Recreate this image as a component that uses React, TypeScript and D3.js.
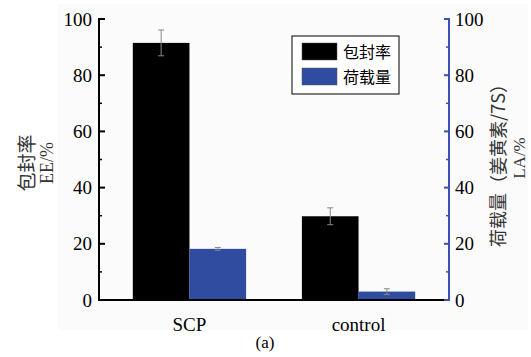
import React from "react";
import * as d3 from "d3";

const categories = ["SCP", "control"];
const eeValues = [91.5, 29.8];
const eeErrors = [4.6, 3.0];
const laValues = [18.2, 3.0];
const laErrors = [0.5, 1.0];
const yTicks = [0, 20, 40, 60, 80, 100];
const minorTicks = [10, 30, 50, 70, 90];
const legendLabels = ["包封率", "荷载量"];

const W = 531, H = 357;
const left = 99, right = 449, top = 19, bottom = 300;
const BLUE = "#2f4ca0";
const AXBLUE = "#3b4fb5";
const serif = "Liberation Serif, Times New Roman, serif";
const cjk = "Noto Sans CJK SC, sans-serif";

export default function App() {
  const y = d3.scaleLinear().domain([0, 100]).range([bottom, top]);
  const x0 = d3.scaleBand().domain(categories).range([left, right]).paddingInner(0.33).paddingOuter(0.2);
  const x1 = d3.scaleBand().domain(["ee", "la"]).range([0, x0.bandwidth()]);
  const series = [
    { key: "ee", vals: eeValues, errs: eeErrors, color: "#000" },
    { key: "la", vals: laValues, errs: laErrors, color: BLUE },
  ];
  const sf = { fontFamily: serif };
  const cf = { fontFamily: cjk };
  return (
    <svg width={W} height={H} style={{ display: "block", position: "absolute", left: 0, top: 0 }}>
      <rect x={0} y={0} width={W} height={H} fill="#ffffff" />
      <rect x={58} y={4} width={470} height={326} fill="#fbfbfb" />
      {series.map((s) =>
        categories.map((c, i) => {
          const bx = (x0(c) as number) + (x1(s.key) as number);
          const bw = x1.bandwidth();
          const cx = bx + bw / 2;
          return (
            <g key={s.key + c}>
              <rect x={bx} y={y(s.vals[i])} width={bw} height={bottom - y(s.vals[i])} fill={s.color} />
              <line x1={cx} x2={cx} y1={y(s.vals[i] + s.errs[i])} y2={y(s.vals[i] - s.errs[i])} stroke="#888" strokeWidth={1} />
              <line x1={cx - 3} x2={cx + 3} y1={y(s.vals[i] + s.errs[i])} y2={y(s.vals[i] + s.errs[i])} stroke="#888" strokeWidth={1} />
              <line x1={cx - 3} x2={cx + 3} y1={y(s.vals[i] - s.errs[i])} y2={y(s.vals[i] - s.errs[i])} stroke="#888" strokeWidth={1} />
            </g>
          );
        })
      )}
      {/* left axis */}
      <line x1={left} x2={left} y1={top - 1} y2={bottom + 1} stroke="#000" strokeWidth={2} />
      {yTicks.map((t) => (
        <g key={"l" + t}>
          <line x1={left} x2={left + 6} y1={y(t)} y2={y(t)} stroke="#000" strokeWidth={2} />
          <text x={left - 7} y={y(t)} dy="0.35em" textAnchor="end" style={sf} fontSize={19}>{t}</text>
        </g>
      ))}
      {minorTicks.map((t) => (
        <line key={"lm" + t} x1={left} x2={left + 3} y1={y(t)} y2={y(t)} stroke="#000" strokeWidth={1.5} />
      ))}
      {/* bottom axis */}
      <line x1={left} x2={right} y1={bottom} y2={bottom} stroke="#000" strokeWidth={2} />
      {/* right axis */}
      <line x1={right} x2={right} y1={top - 1} y2={bottom + 1} stroke={AXBLUE} strokeWidth={2} />
      {yTicks.map((t) => (
        <g key={"r" + t}>
          <line x1={right - 5} x2={right} y1={y(t)} y2={y(t)} stroke={AXBLUE} strokeWidth={2} />
          <text x={right + 6} y={y(t)} dy="0.35em" textAnchor="start" style={sf} fontSize={19}>{t}</text>
        </g>
      ))}
      {minorTicks.map((t) => (
        <line key={"rm" + t} x1={right - 3} x2={right} y1={y(t)} y2={y(t)} stroke={AXBLUE} strokeWidth={1.5} />
      ))}
      {/* category labels */}
      {categories.map((c) => (
        <text key={c} x={(x0(c) as number) + x0.bandwidth() / 2} y={331} textAnchor="middle" style={sf} fontSize={19}>{c}</text>
      ))}
      <text x={265} y={348} textAnchor="middle" style={sf} fontSize={17}>(a)</text>
      {/* axis titles */}
      <text transform="translate(34,163) rotate(-90)" textAnchor="middle" style={cf} fontSize={19} fill="#333">包封率</text>
      <text transform="translate(53,163) rotate(-90)" textAnchor="middle" style={sf} fontSize={18} fill="#333">EE/%</text>
      <text transform="translate(505,161) rotate(-90)" textAnchor="middle" style={cf} fontSize={18} fill="#333">荷载量（姜黄素/7S）</text>
      <text transform="translate(525,158) rotate(-90)" textAnchor="middle" style={sf} fontSize={17} fill="#333">LA/%</text>
      {/* legend */}
      <rect x={292} y={36} width={107} height={58} fill="#fff" stroke="#000" strokeWidth={1} />
      {legendLabels.map((l, i) => (
        <g key={l}>
          <rect x={302} y={43 + i * 25} width={35} height={17} fill={i === 0 ? "#000" : BLUE} stroke="#555" strokeWidth={0.5} />
          <text x={343} y={52 + i * 25} dy="0.35em" style={cf} fontSize={16}>{l}</text>
        </g>
      ))}
    </svg>
  );
}
